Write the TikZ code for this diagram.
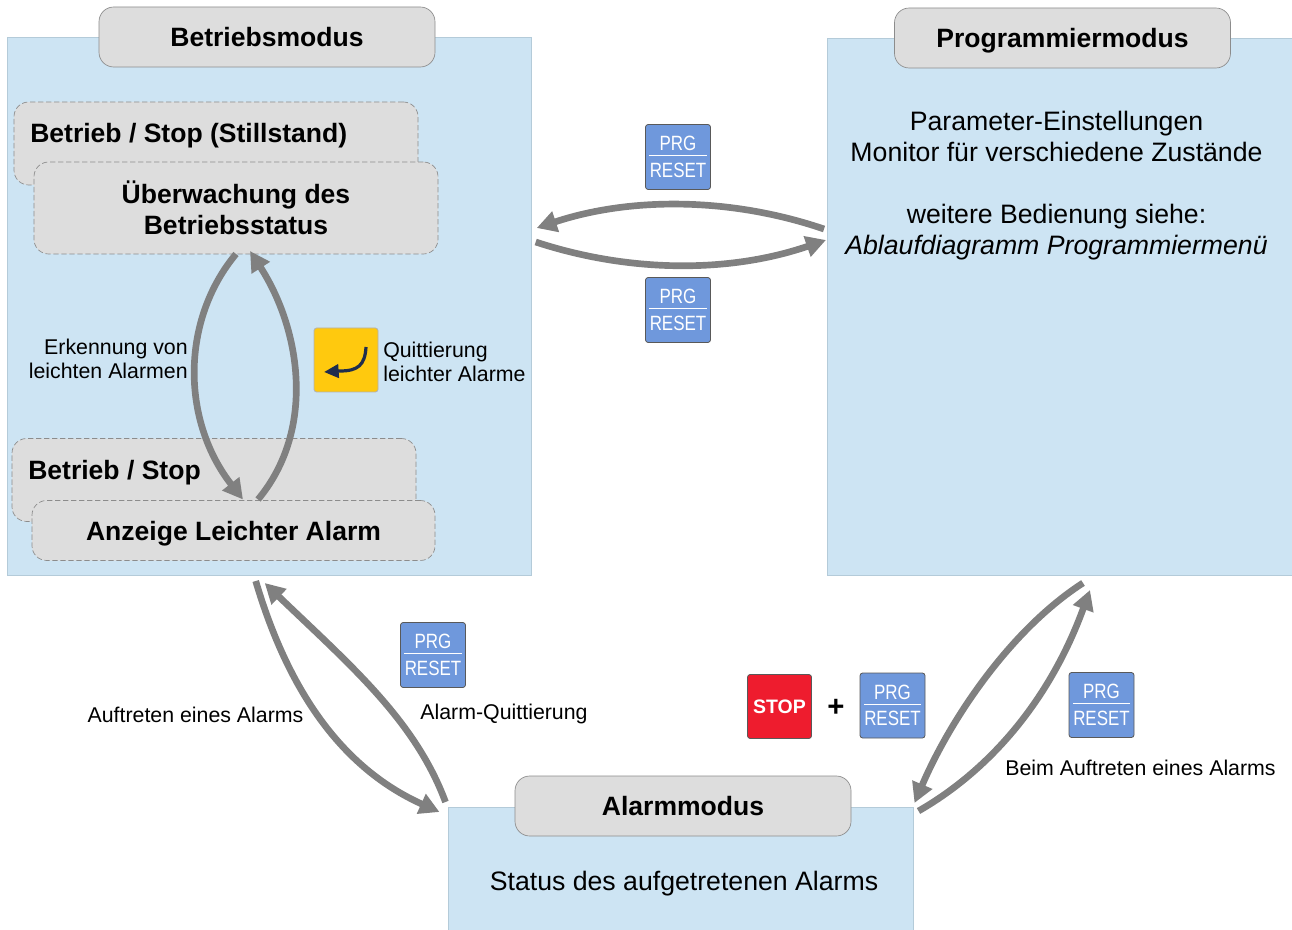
\documentclass[tikz,border=0pt]{standalone}
\usepackage{fontspec}
\setmainfont{Liberation Sans}
\usetikzlibrary{arrows.meta}
\definecolor{panelblue}{HTML}{CDE4F3}
\definecolor{panelline}{HTML}{B4CBD9}
\definecolor{boxgray}{HTML}{DDDDDD}
\definecolor{arrowgray}{HTML}{808080}
\definecolor{btnblue}{HTML}{6F98DC}
\definecolor{btnred}{HTML}{EE1C2E}
\definecolor{btnyellow}{HTML}{FFC90E}
\definecolor{iconnavy}{HTML}{1F2D4D}
\newcommand{\titlefont}{\fontsize{19.9}{23.2}\selectfont\bfseries}
\newcommand{\bodyfont}{\fontsize{20}{23.25}\selectfont}
\newcommand{\labelfont}{\fontsize{16}{18}\selectfont}
\newcommand{\prgfont}{\fontsize{15.5}{16}\selectfont}
\newcommand{\prgcontent}{\scalebox{0.82}[1]{PRG}\\[-12pt]\rule{43pt}{0.8pt}\\[-0.2pt]\scalebox{0.82}[1]{RESET}}
\tikzset{
  x=0.75pt,y=-0.75pt,
  sized/.style 2 args={minimum width=#1*0.75pt,minimum height=#2*0.75pt,inner sep=0pt,outer sep=0pt},
  panel/.style={fill=panelblue,draw=panelline,line width=0.5pt},
  titlebox/.style={fill=boxgray,draw=black!45,line width=0.5pt,rounded corners=11pt,font=\titlefont,align=center,text height=16pt,text depth=2pt},
  statebox/.style={fill=boxgray,draw=black!45,dashed,dash pattern=on 4pt off 2pt,line width=0.5pt,rounded corners=11pt,font=\titlefont,align=center},
  button/.style={rounded corners=2pt,draw=black!65,line width=0.6pt,sized={65}{65}},
  prgbutton/.style={button,fill=btnblue,align=center,text=white,font=\prgfont},
  flow/.style={draw=arrowgray,line width=5pt,-{Triangle[length=15pt,width=15.5pt]}},
  label/.style={font=\labelfont,inner sep=0pt},
  body/.style={font=\bodyfont,inner sep=0pt,align=center},
  statetext/.style={font=\titlefont,inner sep=0pt}
}
\begin{document}
\begin{tikzpicture}
\useasboundingbox (0,0) rectangle (1292,930);
% panels
\node[panel,sized={524}{538}] (betrieb) at (269.7,306) {};
\node[panel,sized={465}{537}] (prog) at (1059.5,306.5) {};
\node[panel,sized={465}{123}] (alarm) at (681,868.5) {};
% titles
\node[titlebox,sized={336}{60}] (betriebT) at (267,37) {Betriebsmodus};
\node[titlebox,sized={336}{60}] (progT) at (1062.5,38) {Programmiermodus};
\node[titlebox,sized={336}{60}] (alarmT) at (683,806) {Alarmmodus};
% states
\node[statebox,sized={404}{83}] (stop1) at (216,143.5) {};
\node[statetext,anchor=west] (stop1t) at (30,136) {Betrieb / Stop (Stillstand)};
\node[statebox,sized={404}{92},align=center] (watch) at (236,208) {Überwachung des\\Betriebsstatus};
\node[statebox,sized={404}{83}] (stop2) at (214,480) {};
\node[statetext,anchor=west] (stop2t) at (28,473) {Betrieb / Stop};
\node[statebox,sized={403}{60},text height=16.5pt,text depth=1.5pt] (light) at (233.5,530.5) {Anzeige Leichter Alarm};
% body text
\node[body] (paramT) at (1056.5,186) {Parameter-Einstellungen\\Monitor für verschiedene Zustände\\[23.25pt]weitere Bedienung siehe:\\\itshape Ablaufdiagramm Programmiermenü};
\node[body] (statusT) at (684,884) {Status des aufgetretenen Alarms};
% labels
\node[label,align=right,anchor=east] (erkT) at (188,359) {Erkennung von\\leichten Alarmen};
\node[label,align=left,anchor=west] (quitT) at (383,362) {Quittierung\\leichter Alarme};
\node[label] (auftT) at (195.5,715) {Auftreten eines Alarms};
\node[label] (aqT) at (504,714) {Alarm-Quittierung};
\node[label] (beimT) at (1140.5,768) {Beim Auftreten eines Alarms};
% buttons
\node[prgbutton] (btnA) at (678,157) {\prgcontent};
\node[prgbutton] (btnB) at (678,310) {\prgcontent};
\node[prgbutton] (btnC) at (433,655) {\prgcontent};
\node[prgbutton] (btnD) at (892.5,705.5) {\prgcontent};
\node[prgbutton] (btnE) at (1101.5,705) {\prgcontent};
\node[button,fill=btnred,sized={64}{64},text=white,font=\fontsize{14.6}{16}\selectfont\bfseries] (btnStop) at (779.5,706.5) {STOP};
\node[inner sep=0pt,font=\fontsize{22}{24}\selectfont\bfseries] (plus) at (836,708) {+};
\node[button,fill=btnyellow,draw=black!30,sized={64}{64}] (btnEnter) at (346,360) {};
\draw[iconnavy,line width=2.4pt,-{Triangle[length=11pt,width=10pt,fill=iconnavy]}]
  ([shift={(20,-13)}]btnEnter.center) .. controls ([shift={(19,5)}]btnEnter.center) and ([shift={(12,11)}]btnEnter.center) .. ([shift={(-6,11)}]btnEnter.center) -- ([shift={(-22,12)}]btnEnter.center);
% connectors
\draw[flow] ([shift={(-3,-77.5)}]prog.west) .. controls (730,197) and (630,197) .. ([shift={(5,-78)}]betrieb.east);
\draw[flow] ([shift={(4,-64)}]betrieb.east) .. controls (630,273) and (730,273) .. ([shift={(-1,-66.5)}]prog.west);
\draw[flow] ([xshift=0]watch.south) .. controls (181,320) and (181,420) .. ([shift={(9.5,-31)}]light.center);
\draw[flow] ([shift={(24.5,-31)}]light.center) .. controls (316,430) and (301,330) .. ([shift={(14,-3)}]watch.south);
\draw[flow] ([shift={(-14,6)}]betrieb.south) .. controls (285,680) and (335,765) .. ([shift={(-9,5)}]alarm.north west);
\draw[flow] ([shift={(-3,-5)}]alarm.north west) .. controls (415,720) and (350,665) .. ([shift={(-5,8)}]betrieb.south);
\draw[flow] ([shift={(23.5,8)}]prog.south) .. controls (1010,630) and (950,720) .. ([shift={(1,-4)}]alarm.north east);
\draw[flow] ([shift={(5,4)}]alarm.north east) .. controls (990,770) and (1050,700) .. ([shift={(30.5,15)}]prog.south);
\end{tikzpicture}
\end{document}
